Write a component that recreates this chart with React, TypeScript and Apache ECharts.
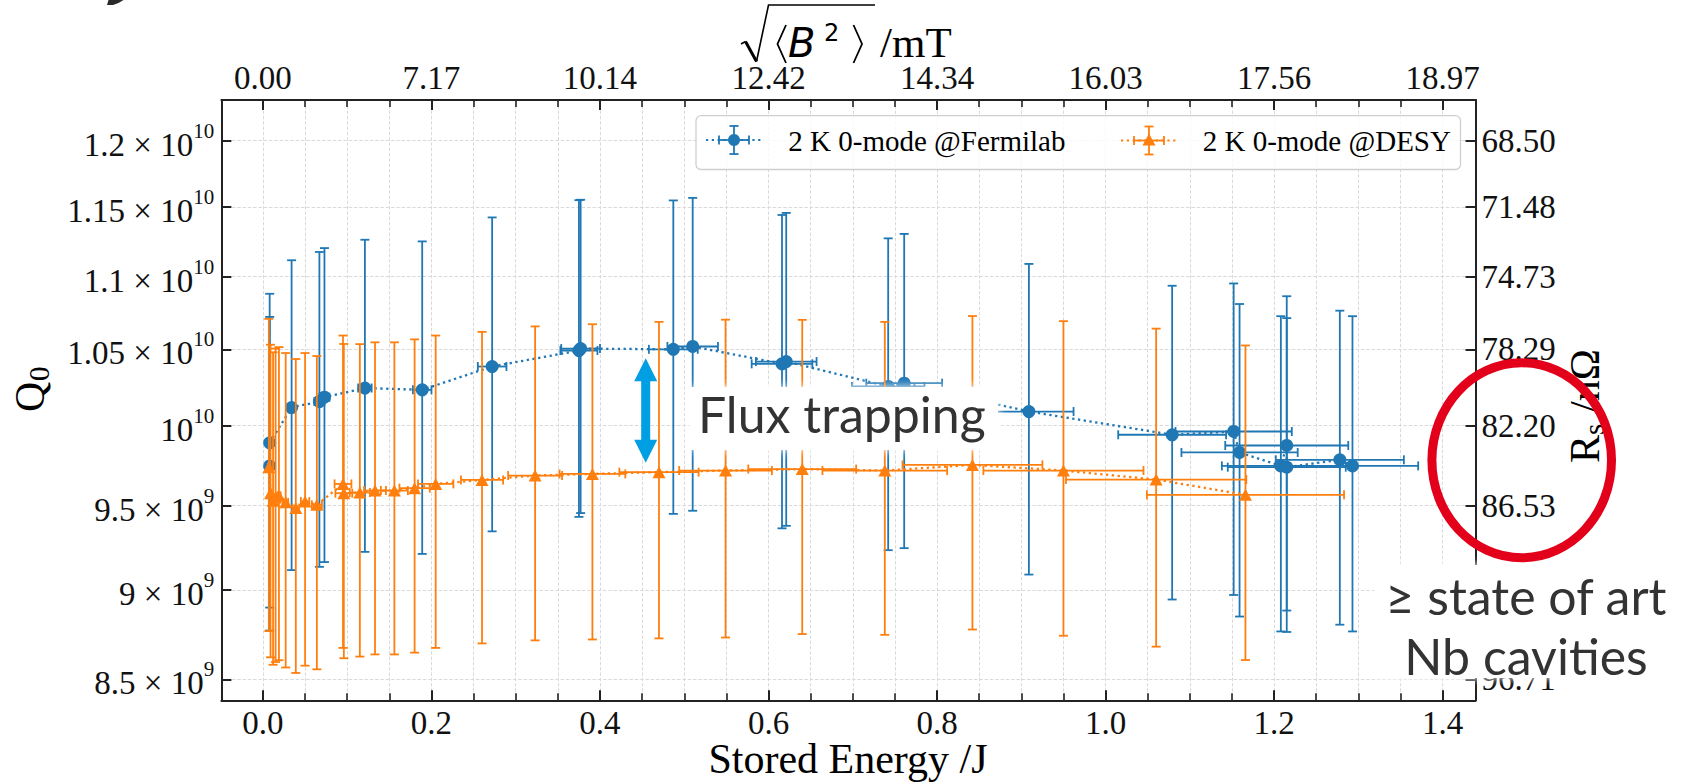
import React, { useEffect, useRef } from 'react';
import * as echarts from 'echarts';

// ---------------- data ----------------
// 2 K 0-mode @Fermilab
const FNAL_E = [0.008, 0.008, 0.034, 0.067, 0.073, 0.121, 0.189, 0.272, 0.375, 0.377, 0.487, 0.510, 0.616, 0.621, 0.742, 0.761, 0.909, 1.079, 1.152, 1.159, 1.208, 1.215, 1.215, 1.278, 1.293];
const FNAL_E_ERR = [0.004, 0.004, 0.004, 0.006, 0.006, 0.008, 0.011, 0.017, 0.022, 0.023, 0.029, 0.030, 0.036, 0.036, 0.043, 0.045, 0.053, 0.064, 0.069, 0.069, 0.070, 0.073, 0.070, 0.076, 0.078];
const FNAL_Q = [9.745e9, 9.89e9, 1.0116e10, 1.0155e10, 1.0183e10, 1.0243e10, 1.0231e10, 1.0385e10, 1.0492e10, 1.0505e10, 1.05e10, 1.0519e10, 1.0403e10, 1.0418e10, 1.0253e10, 1.0275e10, 1.009e10, 9.941e9, 9.962e9, 9.829e9, 9.745e9, 9.873e9, 9.737e9, 9.783e9, 9.745e9];
const FNAL_Q_ERR = [0.975e9, 0.99e9, 1.0e9, 1.02e9, 1.02e9, 1.02e9, 1.02e9, 1.04e9, 1.06e9, 1.05e9, 1.05e9, 1.05e9, 1.04e9, 1.04e9, 1.02e9, 1.03e9, 1.0e9, 0.995e9, 0.99e9, 0.98e9, 0.98e9, 0.99e9, 0.975e9, 0.98e9, 0.98e9];

// 2 K 0-mode @DESY
const DESY_E = [0.007, 0.009, 0.012, 0.015, 0.019, 0.027, 0.039, 0.050, 0.064, 0.095, 0.096, 0.115, 0.133, 0.156, 0.180, 0.205, 0.260, 0.323, 0.391, 0.470, 0.549, 0.640, 0.738, 0.842, 0.950, 1.060, 1.166];
const DESY_E_ERR = [0.001, 0.001, 0.001, 0.002, 0.002, 0.003, 0.004, 0.005, 0.006, 0.010, 0.010, 0.012, 0.013, 0.016, 0.018, 0.021, 0.025, 0.032, 0.039, 0.047, 0.055, 0.064, 0.074, 0.083, 0.095, 0.107, 0.117];
const DESY_Q = [9.737e9, 9.576e9, 9.53e9, 9.55e9, 9.56e9, 9.52e9, 9.485e9, 9.525e9, 9.505e9, 9.633e9, 9.576e9, 9.58e9, 9.592e9, 9.592e9, 9.607e9, 9.633e9, 9.658e9, 9.685e9, 9.695e9, 9.706e9, 9.716e9, 9.725e9, 9.716e9, 9.751e9, 9.716e9, 9.66e9, 9.566e9];
const DESY_Q_ERR = [0.97e9, 0.955e9, 0.95e9, 0.955e9, 0.955e9, 0.955e9, 0.95e9, 0.95e9, 0.95e9, 0.96e9, 0.96e9, 0.955e9, 0.955e9, 0.955e9, 0.96e9, 0.96e9, 0.96e9, 0.97e9, 0.975e9, 0.98e9, 0.985e9, 0.975e9, 0.97e9, 0.975e9, 0.975e9, 0.98e9, 0.96e9];

// axes / ticks
const X_MIN = -0.0493;
const X_MAX = 1.439;
const Q_MIN = 8.387e9;
const Q_MAX = 1.2317e10;
const X_MAJOR = [0, 0.2, 0.4, 0.6, 0.8, 1.0, 1.2, 1.4];
const X_LABELS = ['0.0', '0.2', '0.4', '0.6', '0.8', '1.0', '1.2', '1.4'];
const B_LABELS = ['0.00', '7.17', '10.14', '12.42', '14.34', '16.03', '17.56', '18.97'];
const Q_TICKS = [8.5e9, 9e9, 9.5e9, 1e10, 1.05e10, 1.1e10, 1.15e10, 1.2e10];
const Q_TICK_MANT = ['8.5', '9', '9.5', '', '1.05', '1.1', '1.15', '1.2'];
const Q_TICK_EXP = ['9', '9', '9', '10', '10', '10', '10', '10'];
const RS_LABELS = ['96.71', '91.33', '86.53', '82.20', '78.29', '74.73', '71.48', '68.50'];

const LEGEND_FNAL = '2 K 0-mode @Fermilab';
const LEGEND_DESY = '2 K 0-mode @DESY';

// ---------------- styling ----------------
const SERIF = "'Liberation Serif', 'Times New Roman', serif";
const SANS = "'DejaVu Sans', sans-serif";
const ANNO = "Lato, 'Open Sans', sans-serif";
const BLUE = '#1f77b4';
const ORANGE = '#ff7f0e';
const AX = '#222222';

function nearest(arr: number[], v: number): number {
  let b = 0;
  for (let i = 0; i < arr.length; i++) if (Math.abs(arr[i] - v) < Math.abs(arr[b] - v)) b = i;
  return b;
}

function errRender(color: string) {
  return (_params: any, api: any) => {
    const x = api.value(0);
    const y = api.value(1);
    const xe = api.value(2);
    const ye = api.value(3);
    const top = api.coord([x, y + ye]);
    const bot = api.coord([x, y - ye]);
    const lf = api.coord([x - xe, y]);
    const rt = api.coord([x + xe, y]);
    const c = 4.5;
    const st = { stroke: color, lineWidth: 1.8 };
    const L = (x1: number, y1: number, x2: number, y2: number) => ({ type: 'line', shape: { x1, y1, x2, y2 }, style: st });
    return {
      type: 'group',
      children: [
        L(bot[0], bot[1], top[0], top[1]),
        L(top[0] - c, top[1], top[0] + c, top[1]),
        L(bot[0] - c, bot[1], bot[0] + c, bot[1]),
        L(lf[0], lf[1], rt[0], rt[1]),
        L(lf[0], lf[1] - c, lf[0], lf[1] + c),
        L(rt[0], rt[1] - c, rt[0], rt[1] + c),
      ],
    };
  };
}

function legendMarker(cx: number, cy: number, color: string, tri: boolean) {
  const st = { stroke: color, lineWidth: 1.8 };
  const c = 4.5;
  const els: any[] = [
    { type: 'line', shape: { x1: cx - 28, y1: cy, x2: cx + 27, y2: cy }, style: { stroke: color, lineWidth: 2.2, lineDash: [2.2, 3.6] } },
    { type: 'line', shape: { x1: cx - 15, y1: cy, x2: cx + 15, y2: cy }, style: st },
    { type: 'line', shape: { x1: cx - 15, y1: cy - c, x2: cx - 15, y2: cy + c }, style: st },
    { type: 'line', shape: { x1: cx + 15, y1: cy - c, x2: cx + 15, y2: cy + c }, style: st },
    { type: 'line', shape: { x1: cx, y1: cy - 14, x2: cx, y2: cy + 14 }, style: st },
    { type: 'line', shape: { x1: cx - c, y1: cy - 14, x2: cx + c, y2: cy - 14 }, style: st },
    { type: 'line', shape: { x1: cx - c, y1: cy + 14, x2: cx + c, y2: cy + 14 }, style: st },
  ];
  if (tri) {
    els.push({ type: 'polygon', shape: { points: [[cx, cy - 7], [cx + 6.5, cy + 5], [cx - 6.5, cy + 5]] }, style: { fill: color } });
  } else {
    els.push({ type: 'circle', shape: { cx, cy, r: 6 }, style: { fill: color } });
  }
  return els;
}

function buildOption(): any {
  const LQ = Q_TICKS.map((q) => Math.log10(q));
  const LMIN = Math.log10(Q_MIN);
  const LMAX = Math.log10(Q_MAX);
  const X_MINOR: number[] = [];
  for (let i = 0; i <= 28; i++) X_MINOR.push(Math.round(i * 5) / 100);

  const gridLine = { show: true, lineStyle: { color: '#dadada', width: 1, type: [3.5, 1.8] } };
  const noLine = { show: false, onZero: false };

  const xCommon = { type: 'value', min: X_MIN, max: X_MAX, gridIndex: 0 };
  const xAxis = [
    {
      ...xCommon,
      position: 'bottom',
      axisLine: { show: true, onZero: false, lineStyle: { color: AX, width: 2 } },
      axisTick: { show: true, inside: true, length: 7, customValues: X_MINOR, lineStyle: { color: AX, width: 1.6 } },
      axisLabel: {
        show: true,
        customValues: X_MAJOR,
        formatter: (v: number) => X_LABELS[nearest(X_MAJOR, v)],
        fontFamily: SERIF,
        fontSize: 33,
        color: '#111',
        margin: 6,
      },
      splitLine: gridLine,
    },
    {
      ...xCommon,
      position: 'bottom',
      axisLine: noLine,
      axisTick: { show: true, inside: true, length: 10, customValues: X_MAJOR, lineStyle: { color: AX, width: 2 } },
      axisLabel: { show: false },
      splitLine: { show: false },
    },
    {
      ...xCommon,
      position: 'top',
      axisLine: { show: true, onZero: false, lineStyle: { color: AX, width: 2 } },
      axisTick: { show: true, inside: true, length: 7, customValues: X_MINOR, lineStyle: { color: AX, width: 1.6 } },
      axisLabel: {
        show: true,
        customValues: X_MAJOR,
        formatter: (v: number) => B_LABELS[nearest(X_MAJOR, v)],
        fontFamily: SERIF,
        fontSize: 33,
        color: '#111',
        margin: 6,
      },
      splitLine: { show: false },
    },
    {
      ...xCommon,
      position: 'top',
      axisLine: noLine,
      axisTick: { show: true, inside: true, length: 10, customValues: X_MAJOR, lineStyle: { color: AX, width: 2 } },
      axisLabel: { show: false },
      splitLine: { show: false },
    },
  ];

  const yAxis = [
    { type: 'log', logBase: 10, min: Q_MIN, max: Q_MAX, show: false, gridIndex: 0, axisLine: { onZero: false } },
    {
      type: 'value',
      min: LMIN,
      max: LMAX,
      gridIndex: 0,
      position: 'left',
      axisLine: { show: true, onZero: false, lineStyle: { color: AX, width: 2 } },
      axisTick: { show: true, inside: true, length: 10, customValues: LQ, lineStyle: { color: AX, width: 2 } },
      axisLabel: {
        show: true,
        customValues: LQ,
        margin: 7,
        formatter: (v: number) => {
          const i = nearest(LQ, v);
          const m = Q_TICK_MANT[i];
          return (m ? `{m|${m} × 10}` : '{m|10}') + `{s|${Q_TICK_EXP[i]}}{z| }`;
        },
        rich: {
          m: { fontFamily: SERIF, fontSize: 33, lineHeight: 33, color: '#111', verticalAlign: 'bottom' },
          s: { fontFamily: SERIF, fontSize: 21, lineHeight: 12, color: '#111', verticalAlign: 'top' },
          z: { fontSize: 1, lineHeight: 41 },
        },
      },
      splitLine: gridLine,
    },
    {
      type: 'value',
      min: LMIN,
      max: LMAX,
      gridIndex: 0,
      position: 'right',
      axisLine: { show: true, onZero: false, lineStyle: { color: AX, width: 2 } },
      axisTick: { show: true, inside: true, length: 10, customValues: LQ, lineStyle: { color: AX, width: 2 } },
      axisLabel: {
        show: true,
        customValues: LQ,
        margin: 6,
        formatter: (v: number) => RS_LABELS[nearest(LQ, v)],
        fontFamily: SERIF,
        fontSize: 33,
        color: '#111',
      },
      splitLine: { show: false },
    },
  ];

  const fnalErr = FNAL_E.map((e, i) => [e, FNAL_Q[i], FNAL_E_ERR[i], FNAL_Q_ERR[i]]);
  const desyErr = DESY_E.map((e, i) => [e, DESY_Q[i], DESY_E_ERR[i], DESY_Q_ERR[i]]);
  const fnalPts = FNAL_E.map((e, i) => [e, FNAL_Q[i]]);
  const desyPts = DESY_E.map((e, i) => [e, DESY_Q[i]]);

  const series = [
    { type: 'custom', name: 'fnal-err', xAxisIndex: 0, yAxisIndex: 0, data: fnalErr, encode: { x: 0, y: 1 }, renderItem: errRender(BLUE), z: 2, silent: true },
    {
      type: 'line', name: LEGEND_FNAL, xAxisIndex: 0, yAxisIndex: 0, data: fnalPts, symbol: 'circle', symbolSize: 13,
      itemStyle: { color: BLUE }, lineStyle: { color: BLUE, width: 2.3, type: [2.3, 3.5] }, z: 3, silent: true,
    },
    { type: 'custom', name: 'desy-err', xAxisIndex: 0, yAxisIndex: 0, data: desyErr, encode: { x: 0, y: 1 }, renderItem: errRender(ORANGE), z: 4, silent: true },
    {
      type: 'line', name: LEGEND_DESY, xAxisIndex: 0, yAxisIndex: 0, data: desyPts, symbol: 'triangle', symbolSize: [13, 12],
      itemStyle: { color: ORANGE }, lineStyle: { color: ORANGE, width: 2.3, type: [2.3, 3.5] }, z: 5, silent: true,
    },
  ];

  const Z = 100;
  const elements: any[] = [
    // fragment at top-left
    { type: 'polygon', z: Z, shape: { points: [[107, 5], [113, 5], [118.5, 3], [123.5, 0], [108.5, 0]] }, style: { fill: '#2a2a2a' } },

    // top axis title  sqrt(<B^2>) /mT
    { type: 'polyline', z: Z, shape: { points: [[741, 44], [745.5, 41.5]] }, style: { stroke: '#000', lineWidth: 1.6, fill: 'none' } },
    { type: 'line', z: Z, shape: { x1: 745.5, y1: 41.5, x2: 756.5, y2: 61.5 }, style: { stroke: '#000', lineWidth: 3 } },
    { type: 'polyline', z: Z, shape: { points: [[756.5, 61.5], [768.5, 5], [875, 5]] }, style: { stroke: '#000', lineWidth: 1.6, fill: 'none' } },
    { type: 'polyline', z: Z, shape: { points: [[786, 25], [777.5, 44], [786, 63]] }, style: { stroke: '#000', lineWidth: 1.8, fill: 'none' } },
    { type: 'polyline', z: Z, shape: { points: [[853.5, 25], [862, 44], [853.5, 63]] }, style: { stroke: '#000', lineWidth: 1.8, fill: 'none' } },
    { type: 'text', z: Z, x: 788, y: 43, style: { text: 'B', fontFamily: SANS, fontStyle: 'italic', fontSize: 40, fill: '#000', align: 'left', verticalAlign: 'middle' } },
    { type: 'text', z: Z, x: 824, y: 33, style: { text: '2', fontFamily: SANS, fontSize: 24, fill: '#000', align: 'left', verticalAlign: 'middle' } },
    { type: 'text', z: Z, x: 880, y: 42, style: { text: '/mT', fontFamily: SERIF, fontSize: 43, fill: '#000', align: 'left', verticalAlign: 'middle' } },

    // bottom axis title
    { type: 'text', z: Z, x: 848, y: 759, style: { text: 'Stored Energy /J', fontFamily: SERIF, fontSize: 42, fill: '#000', align: 'center', verticalAlign: 'middle' } },

    // left axis title Q0 (rotated)
    {
      type: 'group', x: 30, y: 412, rotation: Math.PI / 2, z: Z,
      children: [
        { type: 'text', z: Z, x: 0, y: 0, style: { text: 'Q', fontFamily: SERIF, fontSize: 42, fill: '#000', align: 'left', verticalAlign: 'middle' } },
        { type: 'text', z: Z, x: 31, y: 9, style: { text: '0', fontFamily: SERIF, fontSize: 29, fill: '#000', align: 'left', verticalAlign: 'middle' } },
      ],
    },

    // right axis title Rs /nΩ (rotated)
    {
      type: 'group', x: 1585, y: 463, rotation: Math.PI / 2, z: Z,
      children: [
        { type: 'text', z: Z, x: 0, y: 0, style: { text: 'R', fontFamily: SERIF, fontSize: 42, fill: '#000', align: 'left', verticalAlign: 'middle' } },
        { type: 'text', z: Z, x: 28, y: 9, style: { text: 's', fontFamily: SERIF, fontSize: 29, fill: '#000', align: 'left', verticalAlign: 'middle' } },
        { type: 'text', z: Z, x: 50, y: 0, style: { text: '/nΩ', fontFamily: SERIF, fontSize: 42, fill: '#000', align: 'left', verticalAlign: 'middle' } },
      ],
    },

    // legend
    { type: 'rect', z: Z, shape: { x: 696, y: 115.7, width: 764.5, height: 53.8, r: 5 }, style: { fill: 'rgba(255,255,255,0.8)', stroke: '#cfcfcf', lineWidth: 1.3 } },
    ...legendMarker(734, 140, BLUE, false).map((e) => ({ ...e, z: Z })),
    { type: 'text', z: Z, x: 788.3, y: 141, style: { text: LEGEND_FNAL, fontFamily: SERIF, fontSize: 29, fill: '#000', align: 'left', verticalAlign: 'middle' } },
    ...legendMarker(1149, 140.5, ORANGE, true).map((e) => ({ ...e, z: Z })),
    { type: 'text', z: Z, x: 1202.7, y: 141, style: { text: LEGEND_DESY, fontFamily: SERIF, fontSize: 29, fill: '#000', align: 'left', verticalAlign: 'middle' } },

    // flux trapping arrow + text
    {
      type: 'polygon', z: Z,
      shape: { points: [[645.7, 358.3], [657.2, 381.3], [650.2, 381.3], [650.2, 439.7], [657.2, 439.7], [645.7, 462.7], [634.2, 439.7], [641.2, 439.7], [641.2, 381.3], [634.2, 381.3]] },
      style: { fill: '#009fe3' },
    },
    { type: 'rect', z: Z, shape: { x: 690, y: 387, width: 308, height: 63 }, style: { fill: '#fff', shadowBlur: 10, shadowColor: '#fff' } },
    { type: 'text', z: Z, x: 698, y: 414, style: { text: 'Flux trapping', fontFamily: ANNO, fontSize: 50, fill: '#333', align: 'left', verticalAlign: 'middle' } },

    // state of the art box
    { type: 'rect', z: Z, shape: { x: 1376, y: 565, width: 312, height: 113 }, style: { fill: '#fff', shadowBlur: 10, shadowColor: '#fff' } },
    { type: 'text', z: Z, x: 1526, y: 595.6, style: { text: '≥ state of art', fontFamily: ANNO, fontSize: 50, fill: '#333', align: 'center', verticalAlign: 'middle' } },
    { type: 'text', z: Z, x: 1526, y: 655.6, style: { text: 'Nb cavities', fontFamily: ANNO, fontSize: 50, fill: '#333', align: 'center', verticalAlign: 'middle' } },

    // red ellipse
    { type: 'ellipse', z: Z + 1, shape: { cx: 1521.7, cy: 460.3, rx: 89.8, ry: 97.5 }, style: { fill: 'none', stroke: '#e2001a', lineWidth: 9 } },
  ];

  return {
    animation: false,
    backgroundColor: '#ffffff',
    textStyle: { fontFamily: SERIF },
    grid: { left: 221.4, top: 100, right: 212.5, bottom: 82.7, containLabel: false, outerBoundsMode: 'none' },
    xAxis,
    yAxis,
    series,
    graphic: { elements },
  };
}

export default function App() {
  const ref = useRef<HTMLDivElement>(null);
  useEffect(() => {
    if (!ref.current) return;
    const chart = echarts.init(ref.current, null, { renderer: 'svg' });
    chart.setOption(buildOption());
    return () => chart.dispose();
  }, []);
  return <div ref={ref} style={{ position: 'fixed', left: 0, top: 0, width: 1688, height: 783, background: '#fff' }} />;
}
